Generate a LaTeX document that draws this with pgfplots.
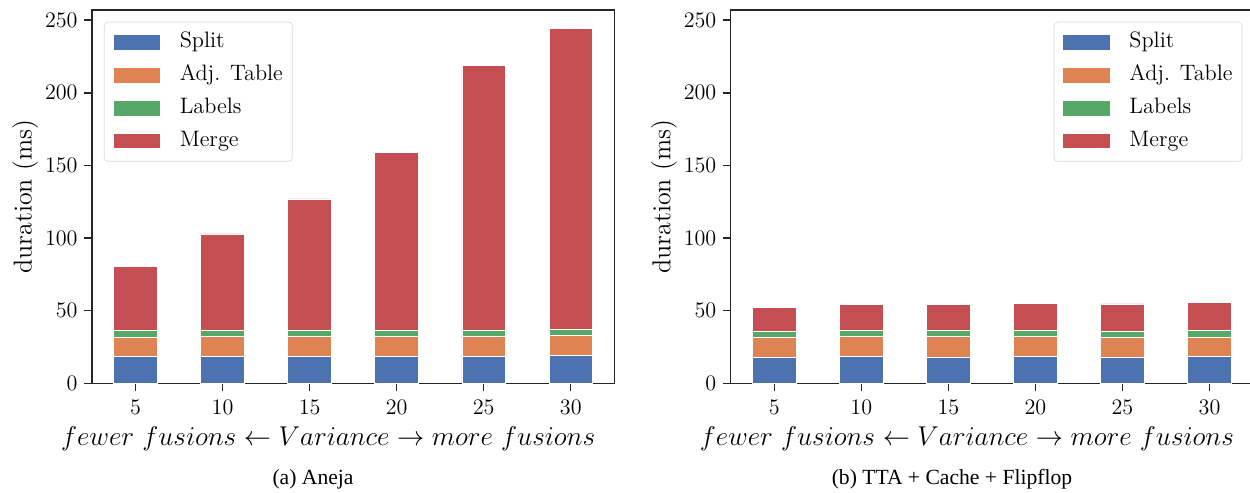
\RequirePackage{fix-cm}
\documentclass[border=0pt]{standalone}
\usepackage{pgfplots}
\pgfplotsset{compat=1.18}
\usepackage{fontspec}
\newfontfamily\capfont{Liberation Serif}
\definecolor{sbblue}{HTML}{4C72B0}
\definecolor{sborange}{HTML}{DD8452}
\definecolor{sbgreen}{HTML}{55A868}
\definecolor{sbred}{HTML}{C44E52}
\definecolor{spine}{HTML}{262626}

\pgfplotstableread{
x split adj labels merge
0 18.5 13.2 4.5 44.5
1 18.7 13.4 4.5 66.2
2 18.7 13.5 4.5 90.2
3 18.6 13.4 4.5 122.7
4 18.7 13.5 4.5 181.9
5 18.9 13.8 4.5 207.4
}\aneja

\pgfplotstableread{
x split adj labels merge
0 18.0 13.4 4.3 16.3
1 18.3 13.8 4.3 17.7
2 18.1 14.0 4.3 18.0
3 18.3 13.8 4.3 18.6
4 18.1 13.3 4.3 18.9
5 18.3 13.6 4.3 19.3
}\tta

\pgfplotsset{
  mystyle/.style={
    scale only axis, width=290.2pt, height=207.4pt,
    xmin=-0.5, xmax=5.5, ymin=0, ymax=257,
    ybar stacked, bar width=0.5,
    xtick={0,...,5}, xticklabels={5,10,15,20,25,30},
    ytick={0,50,...,250},
    tick align=outside, tick pos=left,
    major tick length=4.5pt,
    axis line style={color=spine, line width=0.8pt},
    every tick/.style={color=spine, line width=0.8pt},
    ticklabel style={font=\fontsize{12.3}{14}\selectfont},
    xticklabel style={yshift=-1pt},
    label style={font=\Large},
    ylabel={duration (ms)},
    ylabel style={yshift=-3pt},
    xlabel={$fewer\ fusions \leftarrow Variance \rightarrow more\ fusions$},
    xlabel style={font=\fontsize{15.1}{18}\selectfont, xshift=-13.9pt},
    every axis plot/.append style={draw=white, line width=0.5pt},
    legend image code/.code={\path[#1,draw=none,sharp corners] (0pt,-4.1pt) rectangle (25.9pt,4.1pt);},
    legend cell align=left,
    legend style={draw=black!15, rounded corners=2pt,
      inner xsep=5.2pt, inner ysep=4.4pt,
      nodes={font=\fontsize{12.4}{15}\selectfont, inner sep=0pt, text height=9.8pt, text depth=3.9pt},
      row sep=4.6pt,
      /tikz/every odd column/.append style={column sep=10.8pt}},
  }
}

\begin{document}
\begin{tikzpicture}
\begin{axis}[mystyle, name=left,
  legend style={at={(0.023,0.9687)}, anchor=north west}]
\addplot[fill=sbblue] table[x=x,y=split]{\aneja};
\addplot[fill=sborange] table[x=x,y=adj]{\aneja};
\addplot[fill=sbgreen] table[x=x,y=labels]{\aneja};
\addplot[fill=sbred] table[x=x,y=merge]{\aneja};
\legend{Split,Adj. Table\hspace{6pt},Labels,Merge}
\end{axis}
\begin{axis}[mystyle, name=right, at={(354.9pt,0pt)},
  legend style={at={(0.9795,0.9687)}, anchor=north east}]
\addplot[fill=sbblue] table[x=x,y=split]{\tta};
\addplot[fill=sborange] table[x=x,y=adj]{\tta};
\addplot[fill=sbgreen] table[x=x,y=labels]{\tta};
\addplot[fill=sbred] table[x=x,y=merge]{\tta};
\legend{Split,Adj. Table\hspace{6pt},Labels,Merge}
\end{axis}
\node[anchor=base, font=\capfont\fontsize{12}{14}\selectfont] at (122.8pt,-56pt) {(a) Aneja};
\node[anchor=base, font=\capfont\fontsize{12}{14}\selectfont] at (477.8pt,-56pt) {(b) TTA + Cache + Flipflop};
\pgfresetboundingbox
\path (-51.11pt,-60.95pt) rectangle (643.4pt,212.96pt);
\end{tikzpicture}
\end{document}
